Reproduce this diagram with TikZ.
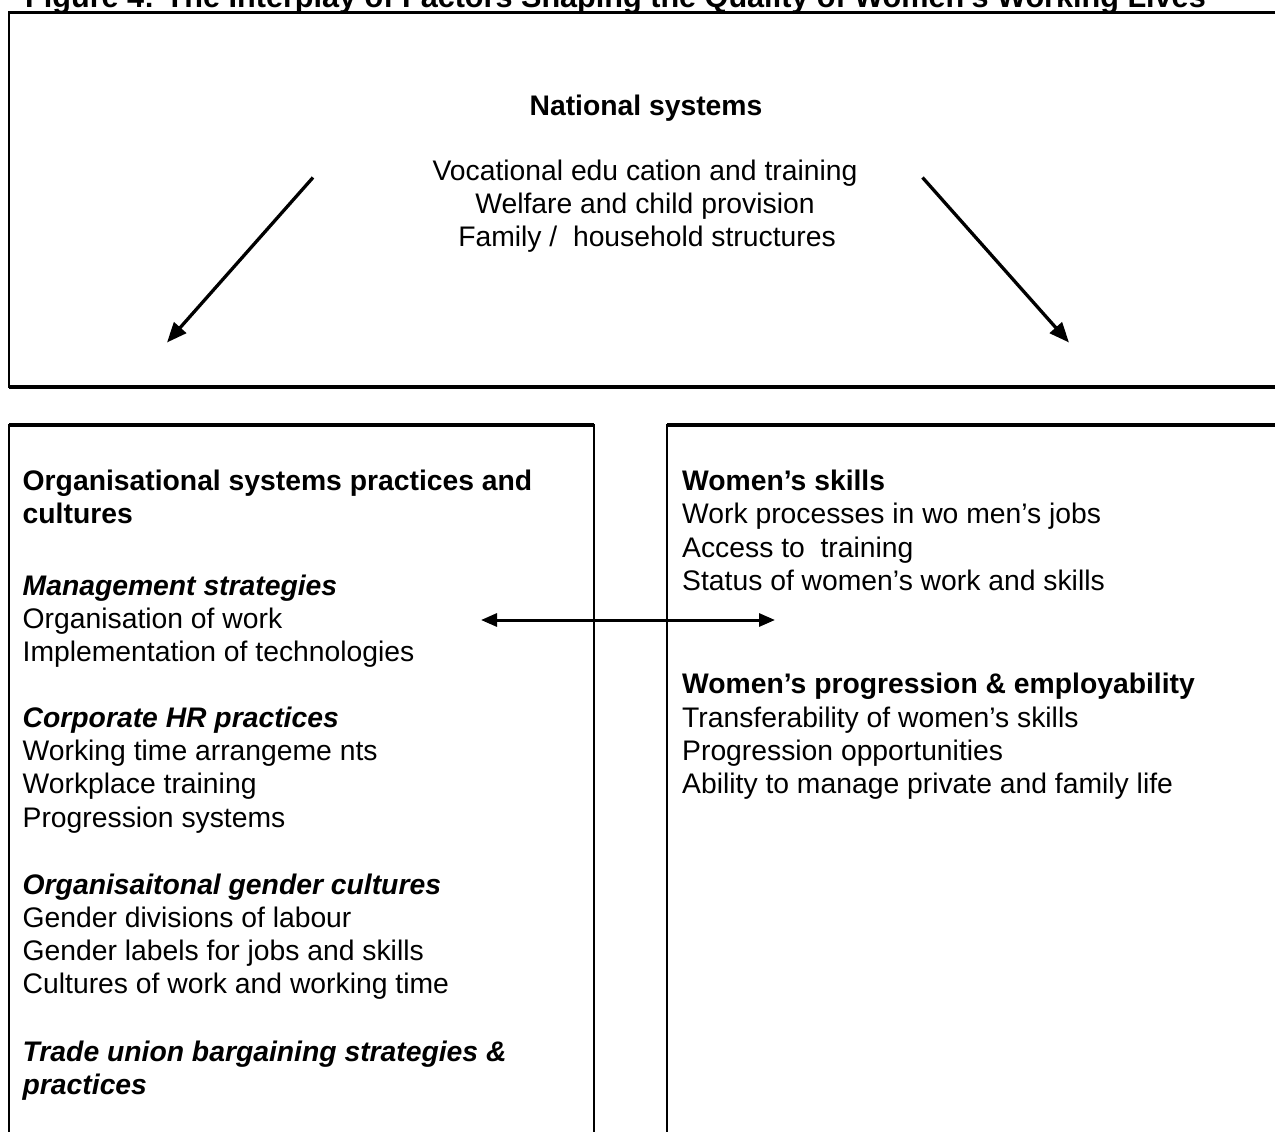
\documentclass[tikz,border=0pt]{standalone}
\usepackage{fontspec}
\setmainfont{Liberation Sans}
\usetikzlibrary{arrows.meta}
\tikzset{
  body/.style={font=\fontsize{28.3}{33.3}\selectfont, inner sep=0pt, anchor=base west},
  hd/.style={body, font=\fontsize{28.3}{33.3}\selectfont\bfseries},
  subhd/.style={body, font=\fontsize{28.3}{33.3}\selectfont\bfseries\itshape},
  ctr/.style={anchor=base},
  frame/.style={line width=2pt},
  rulel/.style={line width=3.2pt},
  arr/.style={line width=3.3pt, -{Triangle[length=20pt,width=16pt]}},
  darr/.style={line width=3pt, {Triangle[length=16pt,width=13pt]}-{Triangle[length=16pt,width=13pt]}},
}
\begin{document}
\begin{tikzpicture}[x=1pt,y=-1pt]
\useasboundingbox (0,0) rectangle (1275,1132);
\clip (0,0) rectangle (1275,1132);
% title (cut by top edge)
\node[body, font=\fontsize{30.6}{36}\selectfont\bfseries] (title) at (25,8) {Figure 4: The Interplay of Factors Shaping the Quality of Women's Working Lives};
% boxes
\coordinate (tbTL) at (9,12.5);
\coordinate (tbBR) at (1290,387);
\coordinate (lbTL) at (9,425);
\coordinate (lbBR) at (594,1150);
\coordinate (rbTL) at (667,425);
\coordinate (rbBR) at (1290,1150);
\draw[frame] (tbTL) rectangle (tbBR);
\draw[rulel] (tbTL) -- (tbTL -| tbBR);
\draw[rulel] (tbBR -| tbTL) -- (tbBR);
\draw[frame] (lbTL) rectangle (lbBR);
\draw[rulel] (lbTL) -- (lbTL -| lbBR);
\draw[frame] (rbTL) rectangle (rbBR);
\draw[rulel] (rbTL) -- (rbTL -| rbBR);
% top box text
\node[hd, ctr] (nat) at (646,115) {National systems};
\node[body, ctr] (n1) at (645,180) {Vocational edu cation and training};
\node[body, ctr] (n2) at (645,213) {Welfare and child provision};
\node[body, ctr] (n3) at (647,246) {Family /\ \ household structures};
% left box text
\node[hd] (o1) at (22.5,490) {Organisational systems practices and};
\node[hd] (o2) at (22.5,523) {cultures};
\node[subhd] (m0) at (22.5,595) {Management strategies};
\node[body] (m1) at (22.5,628) {Organisation of work};
\node[body] (m2) at (22.5,661) {Implementation of technologies};
\node[subhd] (c0) at (22.5,727) {Corporate HR practices};
\node[body] (c1) at (22.5,760) {Working time arrangeme nts};
\node[body] (c2) at (22.5,793) {Workplace training};
\node[body] (c3) at (22.5,827) {Progression systems};
\node[subhd] (g0) at (22.5,894) {Organisaitonal gender cultures};
\node[body] (g1) at (22.5,927) {Gender divisions of labour};
\node[body] (g2) at (22.5,960) {Gender labels for jobs and skills};
\node[body] (g3) at (22.5,993) {Cultures of work and working time};
\node[subhd] (u0) at (22.5,1061) {Trade union bargaining strategies \&};
\node[subhd] (u1) at (22.5,1094) {practices};
% right box text
\node[hd] (s0) at (682,490) {Women's skills};
\node[body] (s1) at (682,523.5) {Work processes in wo men's jobs};
\node[body] (s2) at (682,557) {Access to\ \ training};
\node[body] (s3) at (682,590.5) {Status of women's work and skills};
\node[hd] (p0) at (682,693) {Women's progression \& employability};
\node[body] (p1) at (682,727) {Transferability of women's skills};
\node[body] (p2) at (682,760) {Progression opportunities};
\node[body] (p3) at (682,793) {Ability to manage private and family life};
% arrows
\coordinate (la1) at (313,177.5);
\coordinate (la2) at (167,342.5);
\coordinate (ra1) at (922.5,177.5);
\coordinate (ra2) at (1069,342.5);
\coordinate (ha1) at (481,620);
\coordinate (ha2) at (775,620);
\draw[arr] (la1) -- (la2);
\draw[arr] (ra1) -- (ra2);
\draw[darr] (ha1) -- (ha2);
\end{tikzpicture}
\end{document}
